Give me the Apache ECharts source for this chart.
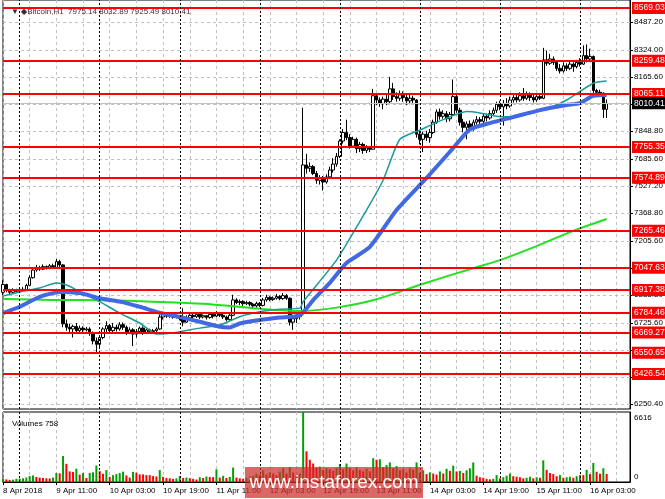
<!DOCTYPE html>
<html><head><meta charset="utf-8">
<script src="https://cdn.jsdelivr.net/npm/echarts@6/dist/echarts.min.js"></script>
<style>html,body{margin:0;padding:0;background:#fff}#c{width:665px;height:499px}</style>
</head><body><div id="c"></div>
<script>
// [open, close, low, high] hourly candles from 8 Apr 19:00
const candles = [
[6905,6950,6890,6975],[6950,6915,6905,6955],[6915,6905,6895,6925],[6905,6918,6898,6928],[6918,6910,6900,6925],
[6910,6922,6905,6930],[6922,6915,6908,6935],[6915,6945,6912,6955],[6945,6990,6940,7005],[6990,7035,6985,7045],
[7035,7050,7025,7065],[7050,7040,7030,7060],[7040,7055,7035,7068],[7055,7045,7038,7062],[7045,7060,7040,7070],
[7060,7050,7042,7072],[7050,7085,7048,7100],[7085,7065,7050,7095],[7065,6720,6700,7068],[6720,6700,6680,6745],
[6700,6690,6665,6720],[6690,6705,6640,6715],[6705,6680,6665,6725],[6680,6695,6670,6710],[6695,6685,6672,6705],
[6685,6690,6675,6702],[6690,6665,6650,6700],[6665,6620,6600,6675],[6620,6600,6555,6640],[6600,6640,6580,6650],
[6640,6690,6630,6700],[6690,6710,6670,6735],[6710,6680,6665,6720],[6680,6700,6670,6725],[6700,6690,6675,6715],
[6690,6715,6680,6730],[6715,6700,6685,6728],[6700,6670,6655,6710],[6670,6685,6660,6700],[6685,6660,6590,6695],
[6660,6675,6640,6690],[6675,6695,6660,6705],[6695,6670,6655,6705],[6670,6685,6660,6695],[6685,6675,6662,6692],
[6675,6680,6668,6690],[6680,6690,6670,6700],[6690,6760,6685,6775],[6760,6775,6745,6790],[6775,6765,6755,6782],
[6765,6772,6755,6780],[6772,6760,6750,6778],[6760,6768,6752,6775],[6768,6750,6740,6772],[6750,6730,6705,6812],
[6730,6755,6725,6770],[6755,6770,6745,6780],[6770,6762,6750,6778],[6762,6775,6755,6785],[6775,6760,6748,6780],
[6760,6768,6752,6775],[6768,6758,6745,6772],[6758,6775,6750,6790],[6775,6765,6752,6782],[6765,6780,6758,6795],
[6780,6770,6760,6788],[6770,6760,6748,6778],[6760,6745,6735,6768],[6745,6770,6740,6780],[6770,6860,6765,6890],
[6860,6845,6835,6870],[6845,6850,6830,6862],[6850,6838,6825,6858],[6838,6845,6830,6855],[6845,6835,6822,6852],
[6835,6825,6812,6842],[6825,6840,6815,6850],[6840,6828,6818,6848],[6828,6860,6822,6872],[6860,6875,6850,6890],
[6875,6862,6852,6882],[6862,6870,6855,6880],[6870,6880,6862,6895],[6880,6868,6858,6888],[6868,6885,6860,6900],
[6885,6870,6860,6895],[6870,6730,6710,6875],[6730,6750,6685,6760],[6750,6762,6725,6790],[6762,6780,6745,6800],
[6780,7650,6770,7985],[7650,7630,7600,7715],[7630,7640,7610,7665],[7640,7600,7590,7650],[7600,7560,7540,7615],
[7560,7575,7535,7590],[7575,7550,7500,7585],[7550,7580,7540,7595],[7580,7620,7570,7640],[7620,7655,7605,7690],
[7655,7700,7640,7720],[7700,7790,7690,7800],[7790,7840,7775,7860],[7840,7810,7795,7915],[7810,7760,7745,7830],
[7760,7800,7750,7815],[7800,7745,7720,7810],[7745,7770,7725,7785],[7770,7735,7715,7780],[7735,7750,7720,7765],
[7750,7742,7725,7760],[7742,8055,7740,8095],[8055,8030,8000,8070],[8030,8010,7990,8045],[8010,8035,7975,8050],
[8035,8020,8000,8060],[8020,8095,8010,8165],[8095,8050,8030,8130],[8050,8040,8020,8075],[8040,8060,8025,8085],
[8060,8045,8020,8080],[8045,8025,8000,8065],[8025,8040,8005,8060],[8040,8030,8010,8055],[8030,7830,7810,8035],
[7830,7800,7770,7850],[7800,7830,7725,7845],[7830,7810,7790,7850],[7810,7840,7780,7860],[7840,7900,7830,7915],
[7900,7960,7890,7975],[7960,7935,7915,7980],[7935,7950,7920,7970],[7950,7920,7900,7965],[7920,7945,7905,7960],
[7945,8050,7935,8150],[8050,7970,7955,8070],[7970,7900,7880,7985],[7900,7870,7840,7920],[7870,7890,7800,7905],
[7890,7860,7840,7910],[7860,7900,7850,7915],[7900,7915,7885,7935],[7915,7905,7890,7930],[7905,7935,7895,7950],
[7935,7925,7905,7950],[7925,7950,7915,7970],[7950,7970,7935,7985],[7970,8005,7955,8020],[8005,7990,7970,8025],
[7990,8010,7880,8030],[8010,7995,7975,8040],[7995,8030,7985,8050],[8030,8045,8015,8065],[8045,8030,8015,8060],
[8030,8055,8020,8075],[8055,8040,8025,8100],[8040,8060,8030,8080],[8060,8045,8025,8075],[8045,8030,8015,8070],
[8030,8050,8020,8070],[8050,8040,8030,8065],[8040,8265,8035,8335],[8265,8245,8230,8320],[8245,8270,8235,8300],
[8270,8250,8235,8285],[8250,8215,8200,8260],[8215,8200,8185,8240],[8200,8230,8190,8250],[8230,8215,8200,8245],
[8215,8240,8205,8255],[8240,8225,8195,8250],[8225,8250,8215,8265],[8250,8240,8225,8275],[8240,8290,8235,8350],
[8290,8270,8250,8355],[8270,8285,8255,8330],[8285,8085,8070,8290],[8085,8075,8060,8095],[8075,8070,8060,8090],
[8070,7975,7925,8075],[7975.14,8010.41,7925.49,8032.89]
];
const volumes = [
300,250,200,220,300,320,350,420,560,620,
480,420,380,350,340,420,850,820,2450,1720,
1000,950,1250,700,850,380,860,920,1560,1020,
780,1130,480,650,750,850,980,620,420,960,
880,720,720,650,650,560,520,1120,480,380,
350,300,340,560,380,420,360,300,240,450,
380,520,470,460,1200,420,580,380,480,1360,
420,350,300,400,520,600,800,680,1100,720,
900,800,650,980,1300,800,1400,900,620,800,
6616,2900,2100,1750,1350,1450,1150,1300,1200,1050,
1350,1700,1200,1750,1300,1100,1400,1150,1000,1250,
1000,2250,2100,2150,1400,1600,1850,1300,1500,1100,
1200,900,1300,1150,1850,850,1100,750,900,800,
700,1000,800,1250,1050,1550,1000,1050,850,1100,
1300,1850,600,450,400,300,250,300,650,350,
450,600,800,550,500,450,350,400,500,350,
450,400,2050,1150,850,750,550,650,400,450,
500,400,550,650,650,1150,750,1800,970,780,
1300,758
];
// moving averages: [bar index, value]
const maFast = [[0,6883],[5,6907],[11,6930],[16,6959],[20,6940],[23,6907],[29,6850],[35,6783],[41,6725],[46,6660],[48,6660],[53,6674],[59,6695],[65,6713],[71,6762],[77,6791],[83,6806],[89,6812],[90,6850],[100,7093],[109,7386],[114,7562],[119,7800],[125,7854],[132,7915],[139,7962],[143,7954],[149,7932],[153,7932],[162,7971],[169,8030],[177,8128],[181,8141]];
const maSlow = [[0,6783],[5,6820],[11,6878],[17,6907],[23,6900],[29,6870],[35,6850],[41,6820],[47,6785],[53,6760],[59,6732],[65,6703],[68,6699],[71,6722],[77,6742],[83,6757],[89,6770],[93,6859],[98,6960],[103,7076],[110,7170],[118,7386],[127,7574],[135,7749],[140,7858],[146,7895],[153,7930],[161,7971],[169,8001],[173,8012],[177,8055],[181,8059]];
const ma200 = [[0,6865],[15,6860],[30,6858],[45,6850],[60,6838],[75,6812],[89,6795],[100,6815],[112,6864],[126,6955],[140,7040],[149,7093],[160,7175],[170,7257],[181,7334]];
const levels = [8569.03,8259.48,8065.11,7755.35,7574.89,7265.46,7047.63,6917.38,6784.46,6669.27,6550.65,6426.54];
const lastPrice = 8010.41;
const priceTicks = [8487.2,8324.0,8165.6,8006.4,7848.8,7685.6,7527.2,7368.8,7205.6,7047.2,6888.8,6725.6,6567.2,6408.0,6250.4];
const volumeTicks = [0,6616];
const xTickLabels = ['8 Apr 2018','9 Apr 11:00','10 Apr 03:00','10 Apr 19:00','11 Apr 11:00','12 Apr 03:00','12 Apr 19:00','13 Apr 11:00','14 Apr 03:00','14 Apr 19:00','15 Apr 11:00','16 Apr 03:00'];
const daySeparators = ['9 Apr 00:00','10 Apr 00:00','11 Apr 00:00','12 Apr 00:00','13 Apr 00:00','14 Apr 00:00','15 Apr 00:00','16 Apr 00:00'];

// hourly categories (with empty chart shift on the right)
const categories = [];
for (let i = 0; i < 189; i++) {
  const t = 19 + i;
  const d = 8 + Math.floor(t / 24), h = t % 24;
  categories.push(d + ' Apr ' + (h < 10 ? '0' : '') + h + ':00');
}
const FONT = '"Liberation Sans",Arial,sans-serif';
const FS = 8;
const volData = volumes.map((v, i) => ({
  value: v,
  itemStyle: { color: (i === 0 || v > volumes[i - 1]) ? '#00a000' : '#ff0000' }
}));
const last = candles[candles.length - 1];
const header = '\u25BC \u25C6Bitcoin,H1  ' + [last[0], last[3], last[2], last[1]].map(v => v.toFixed(2)).join(' ');

const sepLine = {
  silent: true, symbol: 'none', animation: false,
  label: { show: false },
  lineStyle: { color: '#000', type: [2, 2], width: 1 },
  data: daySeparators.map(s => ({ xAxis: s }))
};
const levelLines = levels.map(v => ({
  yAxis: v,
  lineStyle: { color: '#ff0000', width: 2, type: 'solid' },
  label: { backgroundColor: '#ff0000', color: '#fff' }
}));
levelLines.push({
  yAxis: lastPrice,
  lineStyle: { color: '#c0c0c0', width: 1, type: 'solid' },
  label: { backgroundColor: '#000', color: '#fff' }
});

const chart = echarts.init(document.getElementById('c'), null, { renderer: 'canvas' });
chart.setOption({
  animation: false,
  backgroundColor: '#fff',
  title: [
    { text: header, left: 6, top: 3, textStyle: { fontSize: FS, fontWeight: 'normal', color: '#333', fontFamily: FONT } },
    { text: 'Volumes ' + volumes[volumes.length - 1], left: 7, top: 415, textStyle: { fontSize: FS, fontWeight: 'normal', color: '#000', fontFamily: FONT } }
  ],
  grid: [
    { left: 3, top: 0, width: 627, height: 409, outerBoundsMode: 'none', containLabel: false, show: true, borderColor: '#000', borderWidth: 1, backgroundColor: '#fff' },
    { left: 3, top: 412, width: 627, height: 70, outerBoundsMode: 'none', containLabel: false, show: true, borderColor: '#000', borderWidth: 1, backgroundColor: '#fff' }
  ],
  xAxis: [
    {
      type: 'category', gridIndex: 0, data: categories, boundaryGap: false,
      axisLine: { show: false }, axisTick: { show: false }, axisLabel: { show: false },
      splitLine: { show: true, interval: (i) => i % 8 === 0, lineStyle: { color: '#c0c0c0', type: [3, 3], width: 1 } }
    },
    {
      type: 'category', gridIndex: 1, data: categories, boundaryGap: false,
      axisLine: { show: true, lineStyle: { color: '#000' } },
      axisTick: { show: true, interval: (i) => i % 16 === 0, length: 3, lineStyle: { color: '#000' } },
      axisLabel: {
        show: true, interval: (i) => i % 16 === 0, align: 'left', margin: 5, hideOverlap: false,
        color: '#000', fontSize: FS, fontFamily: FONT,
        formatter: (v, i) => xTickLabels[Math.round(i / 16)] || ''
      },
      splitLine: { show: true, interval: (i) => i % 8 === 0, lineStyle: { color: '#c0c0c0', type: [3, 3], width: 1 } }
    }
  ],
  yAxis: [
    {
      type: 'value', gridIndex: 0, position: 'right', min: 6221.7, max: 8615.2,
      axisLine: { show: true, lineStyle: { color: '#000' } },
      axisTick: { show: true, length: 3, customValues: priceTicks, lineStyle: { color: '#000' } },
      axisLabel: { show: true, customValues: priceTicks, hideOverlap: false, showMinLabel: true, showMaxLabel: true, margin: 4, color: '#000', fontSize: FS, fontFamily: FONT, formatter: v => v.toFixed(2) },
      splitLine: { show: true, lineStyle: { color: '#c0c0c0', type: [3, 3], width: 1 } }
    },
    {
      type: 'value', gridIndex: 1, position: 'right', min: 0, max: 6616,
      axisLine: { show: true, lineStyle: { color: '#000' } },
      axisTick: { show: false, customValues: volumeTicks },
      axisLabel: {
        show: true, customValues: volumeTicks, margin: 4, color: '#000', fontSize: FS, fontFamily: FONT,
        showMinLabel: true, showMaxLabel: true, hideOverlap: false,
        formatter: v => v > 0 ? '{t|' + v + '}' : '{b|' + v + '}',
        rich: { t: { padding: [11, 0, 0, 0], fontSize: FS, fontFamily: FONT, color: '#000' }, b: { padding: [0, 0, 11, 0], fontSize: FS, fontFamily: FONT, color: '#000' } }
      },
      splitLine: { show: false }
    }
  ],
  series: [
    {
      type: 'candlestick', name: 'Bitcoin', xAxisIndex: 0, yAxisIndex: 0,
      data: candles, barWidth: 3,
      itemStyle: { color: '#fff', color0: '#000', borderColor: '#000', borderColor0: '#000', borderWidth: 1 },
      markLine: {
        silent: true, symbol: 'none', animation: false, precision: 2,
        label: {
          show: true, position: 'end', distance: 2, fontSize: FS + 0.5, fontFamily: FONT,
          padding: [2, 3, 1, 2], formatter: p => Number(p.value).toFixed(2)
        },
        data: levelLines
      }
    },
    {
      type: 'line', name: 'sep', xAxisIndex: 0, yAxisIndex: 0, data: [], markLine: sepLine
    },
    {
      type: 'line', name: 'MA200', xAxisIndex: 0, yAxisIndex: 0, data: ma200, symbol: 'none', smooth: 0.3,
      lineStyle: { color: '#22e022', width: 2 }, z: 3
    },
    {
      type: 'line', name: 'MAfast', xAxisIndex: 0, yAxisIndex: 0, data: maFast, symbol: 'none', smooth: 0.2,
      lineStyle: { color: '#1a9a9a', width: 1.5 }, z: 3
    },
    {
      type: 'line', name: 'MAslow', xAxisIndex: 0, yAxisIndex: 0, data: maSlow, symbol: 'none', smooth: 0.2,
      lineStyle: { color: '#4169e1', width: 4 }, z: 3
    },
    {
      type: 'bar', name: 'Volumes', xAxisIndex: 1, yAxisIndex: 1, data: volData, barWidth: 2,
      markLine: sepLine
    }
  ],
  graphic: [
    { type: 'rect', x: 245, y: 467, z: 100, shape: { x: 0, y: 0, width: 178, height: 31 }, style: { fill: 'rgba(205,45,45,0.72)' } },
    { type: 'text', x: 334, y: 483, z: 101, style: { text: 'www.instaforex.com', fill: '#fff', font: '19px "Liberation Sans", Arial, sans-serif', align: 'center', verticalAlign: 'middle' } }
  ]
});
</script>
</body></html>
